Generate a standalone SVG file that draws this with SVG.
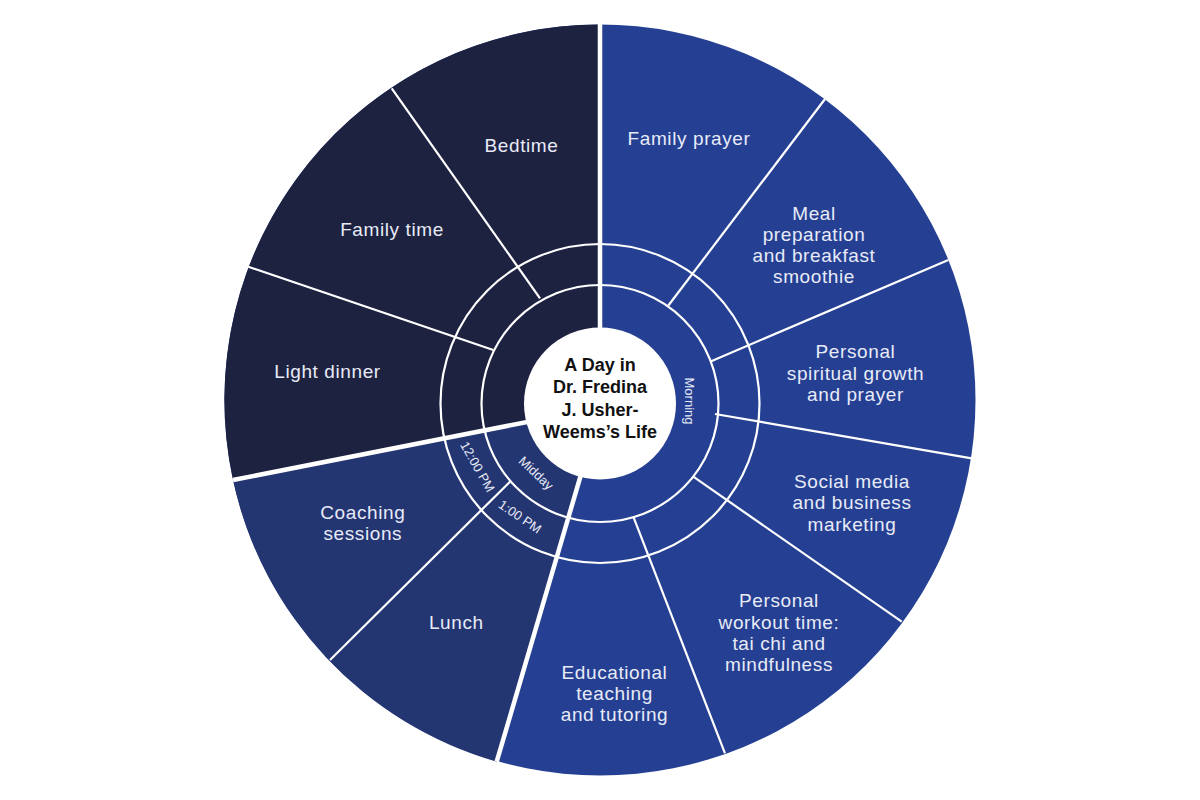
<svg xmlns="http://www.w3.org/2000/svg" width="1200" height="800" viewBox="0 0 1200 800">
  <style>
    .lbl { font-family: "Liberation Sans", Arial, sans-serif; font-size: 19px; fill: #e8ebf7; text-anchor: middle; letter-spacing: 0.6px; }
    .small { font-family: "Liberation Sans", Arial, sans-serif; font-size: 13px; fill: #e8ebf7; text-anchor: middle; }
    .title { font-family: "Liberation Sans", Arial, sans-serif; font-size: 18px; font-weight: bold; fill: #111111; text-anchor: middle; }
    .thin { stroke: #ffffff; stroke-width: 2.2; fill: none; }
    .thick { stroke: #ffffff; stroke-width: 4.5; fill: none; }
  </style>
  <rect width="1200" height="800" fill="#ffffff"/>

  <g id="sectors">
    <circle id="morning-fill" cx="600" cy="400" r="375.5" fill="#254092"/>
    <path id="evening-fill" d="M 540 419.5 L 233 480 A 375.5 375.5 0 0 1 600 24.5 L 600 410 Z" fill="#1e2241"/>
    <path id="midday-fill" d="M 600 410 L 583.5 466 L 496.7 761.7 A 375.5 375.5 0 0 1 233 480 L 540 419.5 Z" fill="#243672"/>
  </g>

  <g id="connectors">
    <circle class="thin" cx="600" cy="403.5" r="118.5"/>
    <circle class="thin" cx="600" cy="403.5" r="159.5"/>
    <line class="thick" x1="600" y1="22" x2="600" y2="340"/>
    <line class="thin" x1="825" y1="99" x2="668" y2="306"/>
    <line class="thin" x1="948.3" y1="260" x2="710" y2="361.7"/>
    <line class="thin" x1="971.7" y1="458.3" x2="715" y2="414"/>
    <line class="thin" x1="901.7" y1="621.7" x2="693.3" y2="476.7"/>
    <line class="thin" x1="725" y1="753.3" x2="633.3" y2="516.7"/>
    <line class="thick" x1="496.7" y1="761.7" x2="583.5" y2="466"/>
    <line class="thin" x1="330" y1="660" x2="510" y2="481.7"/>
    <line class="thick" x1="233" y1="480" x2="540" y2="419.5"/>
    <line class="thin" x1="248.3" y1="266.7" x2="493.3" y2="350"/>
    <line class="thin" x1="391.7" y1="88.3" x2="540" y2="298.3"/>
  </g>

  <g id="center">
    <circle cx="600" cy="403.5" r="76" fill="#ffffff"/>
    <text class="title" x="600" y="370.7">A Day in</text>
    <text class="title" x="600" y="393.3">Dr. Fredina</text>
    <text class="title" x="600" y="416">J. Usher-</text>
    <text class="title" x="600" y="438.3">Weems’s Life</text>
  </g>

  <g id="morning"><text class="small" transform="translate(685,401) rotate(90)">Morning</text></g>
  <g id="midday"><text class="small" transform="translate(533,476.3) rotate(43.5)">Midday</text></g>
  <g id="time-1200"><text class="small" transform="translate(473.6,469) rotate(60.4)">12:00 PM</text></g>
  <g id="time-100"><text class="small" transform="translate(517.5,520.4) rotate(34)">1:00 PM</text></g>

  <g id="family-prayer"><text class="lbl" x="689" y="145">Family prayer</text></g>
  <g id="meal-preparation">
    <text class="lbl" x="814" y="220">Meal</text>
    <text class="lbl" x="814" y="241">preparation</text>
    <text class="lbl" x="814" y="262">and breakfast</text>
    <text class="lbl" x="814" y="283.3">smoothie</text>
  </g>
  <g id="spiritual-growth">
    <text class="lbl" x="855.5" y="358.3">Personal</text>
    <text class="lbl" x="855.5" y="379.5">spiritual growth</text>
    <text class="lbl" x="855.5" y="400.7">and prayer</text>
  </g>
  <g id="social-media">
    <text class="lbl" x="852" y="488.3">Social media</text>
    <text class="lbl" x="852" y="509.3">and business</text>
    <text class="lbl" x="852" y="530.7">marketing</text>
  </g>
  <g id="workout">
    <text class="lbl" x="779" y="607.3">Personal</text>
    <text class="lbl" x="779" y="629">workout time:</text>
    <text class="lbl" x="779" y="650">tai chi and</text>
    <text class="lbl" x="779" y="671">mindfulness</text>
  </g>
  <g id="educational">
    <text class="lbl" x="614.5" y="679.3">Educational</text>
    <text class="lbl" x="614.5" y="700">teaching</text>
    <text class="lbl" x="614.5" y="720.7">and tutoring</text>
  </g>
  <g id="lunch"><text class="lbl" x="456.3" y="629">Lunch</text></g>
  <g id="coaching">
    <text class="lbl" x="362.8" y="519">Coaching</text>
    <text class="lbl" x="362.8" y="540">sessions</text>
  </g>
  <g id="light-dinner"><text class="lbl" x="327.5" y="377.7">Light dinner</text></g>
  <g id="family-time"><text class="lbl" x="392" y="236">Family time</text></g>
  <g id="bedtime"><text class="lbl" x="521.5" y="151.5">Bedtime</text></g>
</svg>
